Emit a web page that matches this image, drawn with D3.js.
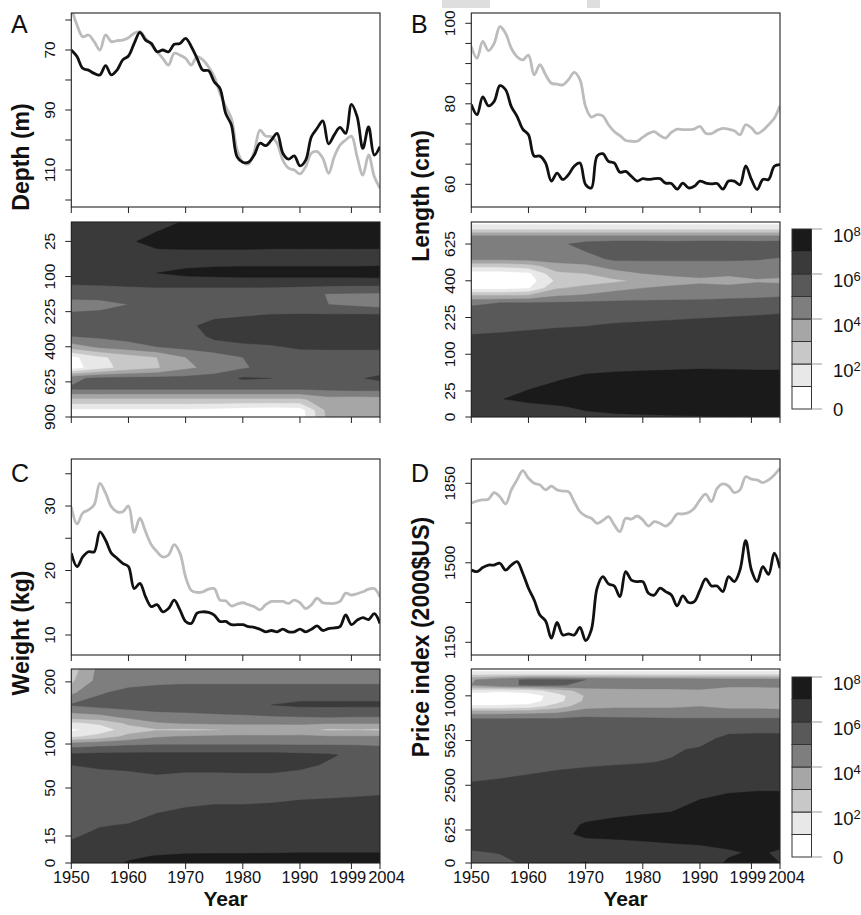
<!DOCTYPE html>
<html>
<head>
<meta charset="utf-8">
<script src="https://cdn.jsdelivr.net/npm/d3@7"></script>
<style>
body{margin:0;background:#fff}
svg{display:block}
text{font-family:"Liberation Sans",Arial,Helvetica,sans-serif;fill:#111}
</style>
</head>
<body>
<script>
var years=d3.range(1950,2005);

// top panels: black and gray series, one value per year
var depthBlack=[70.0,72.2,76.1,76.7,77.8,78.3,75.2,78.3,76.7,73.3, 72.0,67.8,64.1,66.7,67.8,70.6,70.0,70.6,68.1,67.8, 66.1,68.9,72.8,76.7,76.9,80.6,82.8,91.1,95.0,105.6, 107.4,107.4,105.0,101.1,101.9,100.0,97.8,104.4,106.4,105.3, 108.6,106.7,98.9,96.1,93.6,101.3,98.3,95.8,97.8,88.1, 92.2,102.8,95.6,105.0,102.2];
var depthGray=[56,61.7,65.6,65.0,67.2,70.0,65.0,67.2,66.9,66.7, 65.9,64.4,63.9,66.1,68.3,70.6,72.8,75.0,71.1,71.7, 72.8,75.0,72.2,73.3,75.6,78.9,84.4,88.9,92.8,103.3, 107.4,108.0,103.9,96.7,98.7,98.9,101.1,106.7,109.4,110.0, 111.3,108.9,104.4,103.9,106.1,111.1,105.6,101.7,100.0,98.7, 105.6,111.7,105.0,112.2,116.1];
var lengthBlack=[79.8,77.3,81.7,79.5,80.6,84.5,83.5,79.3,76.9,73.7, 72.3,67.0,67.0,65.3,60.8,62.8,61.2,62.4,64.5,65.3, 59.9,59.1,67.0,67.6,65.7,65.3,63.0,63.2,62.0,60.8, 61.4,61.2,61.4,61.4,60.3,60.2,58.8,60.3,59.1,59.5, 60.8,60.3,60.1,60.2,58.8,60.8,60.8,59.9,64.6,61.2, 58.7,61.2,61.2,64.5,64.9];
var lengthGray=[94.2,91.3,95.5,93.2,95.0,99.2,97.5,93.8,91.7,90.9, 92.1,87.2,89.7,87.2,85.1,84.9,84.7,86.0,87.8,86.0, 79.3,76.7,77.3,77.0,74.8,73.1,72.1,70.9,70.7,70.7, 71.7,72.6,73.1,72.1,71.5,72.9,73.7,73.6,73.6,73.7, 74.4,72.7,72.6,73.4,73.9,73.7,73.3,72.3,74.8,74.0, 72.6,73.4,74.8,76.4,79.5];
var weightBlack=[22.7,20.6,22.1,22.9,22.9,26.0,24.7,22.7,21.9,21.1, 20.6,17.2,18.0,15.9,14.4,14.7,13.6,14.1,15.4,13.9, 12.1,11.8,13.4,13.6,13.5,13.1,12.1,12.1,11.6,11.6, 11.6,11.3,11.2,10.9,10.5,10.7,10.5,10.9,10.5,10.5, 10.9,10.5,10.9,11.4,10.7,11.0,11.1,11.3,13.1,11.6, 12.3,12.7,12.4,13.3,11.8];
var weightGray=[29.9,27.2,28.9,29.4,30.2,33.5,32.0,29.9,29.1,29.1, 30.0,25.9,28.1,26.0,24.0,22.9,22.1,22.4,24.0,22.7, 19.0,16.9,16.6,16.7,17.1,17.2,15.4,15.3,14.5,14.8, 15.0,14.7,14.4,13.9,14.7,15.2,15.2,15.2,14.9,15.4, 15.0,14.1,14.7,15.7,15.0,14.9,14.9,15.2,16.5,16.2, 16.4,16.7,17.1,17.2,15.9];
var priceBlack=[1468,1461,1479,1490,1490,1498,1468,1490,1505,1454, 1388,1336,1270,1244,1168,1237,1182,1187,1182,1216, 1157,1205,1388,1439,1407,1398,1351,1461,1424,1417, 1417,1366,1358,1388,1373,1358,1310,1354,1325,1329, 1380,1429,1398,1398,1373,1439,1417,1468,1598,1468, 1417,1483,1449,1542,1476];
var priceGray=[1762,1772,1777,1780,1809,1791,1759,1821,1865,1906, 1872,1850,1843,1821,1838,1821,1816,1813,1769,1725, 1706,1696,1674,1686,1703,1667,1637,1696,1692,1706, 1689,1662,1681,1674,1662,1681,1715,1715,1721,1740, 1777,1802,1769,1828,1847,1838,1809,1821,1879,1868, 1865,1853,1865,1887,1916];

// contour panels: log10 abundance per year column (gridYears) and size bin (rows, top to bottom)
var gridYears=[1950,1955,1960,1965,1970,1975,1980,1985,1990,1995,2000,2004];
var depthBins=[5,12,25,42,64,90,121,156,196,240,289,342,400,462,529,600,676,756,841,900];
var depthGrid=[
[6.5,6.5,6.5,6.6,7.1,7.5,7.5,7.5,7.5,7.5,7.5,7.5],
[6.5,6.5,6.5,6.95,7.5,7.5,7.5,7.5,7.5,7.5,7.5,7.5],
[6.5,6.5,6.8,7.5,7.5,7.5,7.5,7.5,7.5,7.5,7.5,7.5],
[6.5,6.5,6.5,6.8,6.85,6.85,6.85,6.8,6.8,6.8,6.8,6.8],
[6.5,6.5,6.5,6.5,6.6,6.7,6.7,6.7,6.7,6.7,6.7,6.7],
[6.5,6.5,6.5,7.0,7.3,7.4,7.5,7.5,7.5,7.5,7.5,7.6],
[6.05,6.1,6.2,6.3,6.3,6.3,6.3,6.3,6.3,6.3,6.3,6.3],
[5.5,5.5,5.5,5.5,5.5,5.5,5.5,5.45,5.3,4.95,4.9,4.85],
[4.5,4.6,5.0,5.4,5.3,5.3,5.3,5.2,5.2,5.0,4.8,4.6],
[5.2,5.3,5.5,5.5,5.6,5.8,5.9,6.05,6.1,6.1,6.1,6.1],
[5.5,5.5,5.5,5.8,5.8,6.3,6.5,6.5,6.5,6.5,6.5,6.5],
[5.0,5.2,5.4,5.5,5.5,6.2,6.4,6.5,6.5,6.5,6.5,6.5],
[3.5,4.2,4.6,5.0,5.3,5.6,5.8,5.9,6.15,6.2,6.2,6.2],
[0.7,1.8,2.5,3.0,4.0,4.5,5.0,5.3,5.5,5.5,5.5,5.5],
[0.5,1.6,2.4,2.9,3.8,4.3,4.9,5.3,5.5,5.5,5.5,5.5],
[4.8,5.2,5.3,5.3,5.3,5.5,6.1,6.0,5.7,5.6,5.9,6.2],
[5.1,5.1,5.1,5.1,5.1,5.1,5.1,5.1,5.1,5.2,5.3,5.3],
[2.8,2.8,2.8,2.8,2.8,2.8,2.8,2.8,2.8,3.6,3.5,3.6],
[0.8,0.8,0.8,0.8,0.8,0.7,0.5,0.4,0.5,3.4,3.4,3.5],
[0.5,0.5,0.5,0.5,0.5,0.5,0.4,0.3,0.4,3.3,3.4,3.5]];
var lengthBins=[784,729,676,625,576,529,484,441,400,361,324,289,240,196,156,121,90,64,42,25,12,4,0];
var lengthGrid=[
[0.5,0.5,0.5,0.5,0.5,0.5,0.5,0.5,0.5,0.5,0.5,0.5],
[1.9,1.9,1.9,1.9,1.9,1.9,1.9,1.9,1.9,1.9,1.9,1.9],
[4.3,4.3,4.3,4.3,4.3,4.3,4.3,4.3,4.3,4.3,4.3,4.3],
[4.5,4.5,4.6,4.8,5.3,5.5,5.5,5.4,5.5,5.5,5.4,5.5],
[4.5,4.5,4.5,4.6,5.0,5.5,5.5,5.5,5.5,5.5,5.5,5.5],
[4.3,4.3,4.4,4.5,4.6,5.2,5.2,5.2,5.2,5.2,5.1,4.9],
[2.2,2.2,2.5,3.6,3.8,4.4,4.5,4.5,4.5,4.5,4.5,4.5],
[0.5,0.5,0.8,2.8,3.0,3.6,4.0,4.2,4.3,4.2,4.3,4.3],
[0.3,0.3,0.5,2.2,2.5,2.8,3.2,3.6,3.8,3.6,3.9,3.8],
[0.6,0.6,0.9,2.9,3.3,3.7,4.0,4.2,4.3,4.3,4.3,4.4],
[3.0,3.0,3.1,3.9,4.1,4.4,4.5,4.5,4.6,4.7,4.8,4.9],
[4.8,5.0,5.05,5.1,5.15,5.2,5.25,5.3,5.3,5.4,5.4,5.4],
[5.5,5.5,5.55,5.6,5.65,5.7,5.75,5.8,5.85,5.9,5.95,6.0],
[5.7,5.75,5.8,5.9,5.95,6.05,6.1,6.15,6.2,6.25,6.3,6.3],
[6.05,6.1,6.2,6.25,6.3,6.3,6.35,6.35,6.4,6.4,6.4,6.4],
[6.3,6.3,6.35,6.4,6.4,6.45,6.45,6.5,6.5,6.5,6.5,6.5],
[6.5,6.5,6.5,6.5,6.5,6.5,6.55,6.55,6.6,6.6,6.6,6.6],
[6.5,6.5,6.5,6.6,6.75,6.85,6.9,6.95,7.0,6.98,6.95,6.95],
[6.5,6.5,6.6,6.95,7.3,7.4,7.5,7.5,7.5,7.5,7.5,7.5],
[6.5,6.6,7.05,7.4,7.5,7.5,7.5,7.5,7.5,7.5,7.5,7.5],
[6.5,6.95,7.3,7.5,7.5,7.5,7.5,7.5,7.5,7.5,7.5,7.5],
[6.5,6.6,6.7,6.9,7.2,7.4,7.5,7.5,7.5,7.5,7.5,7.5],
[6.5,6.5,6.5,6.6,6.7,6.8,6.85,6.9,6.95,7.1,7.3,7.4]];
var weightBins=[225,202,180,159,139,130,120,110,100,86,74,61,49,38,29,21,15,8,3,1,0];
var weightGrid=[
[2.5,4.3,4.5,4.5,4.5,4.5,4.5,4.5,4.5,4.5,4.5,4.5],
[2.8,4.4,4.6,4.7,4.8,4.8,4.8,4.8,4.8,4.8,4.8,4.8],
[3.8,4.9,5.3,5.5,5.5,5.5,5.5,5.5,5.5,5.5,5.5,5.5],
[5.1,5.4,5.5,5.5,5.5,5.5,5.6,6.0,6.2,6.2,6.2,6.2],
[3.4,3.6,4.2,4.6,4.7,4.8,4.85,4.9,4.95,5.0,4.95,4.95],
[1.8,2.2,3.2,3.9,4.1,4.2,4.2,4.2,4.2,4.1,4.1,4.1],
[0.8,1.4,2.5,2.9,2.8,2.9,3.2,3.1,3.3,2.8,2.9,2.8],
[1.8,2.4,3.3,3.9,4.1,4.2,4.2,4.2,4.2,4.1,4.1,4.1],
[4.4,4.6,4.8,4.9,4.9,4.9,4.9,4.9,4.9,4.9,4.9,4.9],
[6.2,6.3,6.3,6.3,6.3,6.3,6.3,6.3,6.2,6.1,5.8,5.4],
[6.0,6.2,6.3,6.4,6.3,6.3,6.4,6.4,6.2,5.9,5.6,5.4],
[5.5,5.6,5.7,5.9,5.8,5.8,5.8,5.8,5.7,5.5,5.4,5.4],
[5.3,5.35,5.4,5.45,5.5,5.55,5.55,5.6,5.65,5.7,5.75,5.8],
[5.4,5.45,5.5,5.6,5.8,5.9,5.9,5.95,6.05,6.1,6.15,6.2],
[5.5,5.6,5.7,6.0,6.2,6.3,6.3,6.35,6.4,6.4,6.4,6.4],
[5.6,5.95,6.05,6.3,6.4,6.4,6.45,6.45,6.5,6.5,6.5,6.5],
[5.9,6.2,6.3,6.4,6.5,6.5,6.5,6.5,6.5,6.5,6.5,6.5],
[6.1,6.3,6.4,6.5,6.5,6.5,6.5,6.5,6.5,6.5,6.5,6.5],
[6.3,6.4,6.5,6.6,6.75,6.8,6.8,6.8,6.85,6.85,6.85,6.85],
[6.4,6.5,6.8,7.05,7.2,7.2,7.2,7.25,7.25,7.25,7.25,7.25],
[6.5,6.6,7.1,7.3,7.4,7.4,7.4,7.4,7.4,7.4,7.4,7.4]];
var priceBins=[13225,12544,11881,11236,10609,10000,9409,8836,8281,7569,6724,5776,4900,3969,3136,2401,1764,1225,784,484,225,64,0];
var priceGrid=[
[0.4,0.4,0.4,0.4,0.4,0.4,0.4,0.4,0.4,0.4,0.4,0.4],
[1.8,1.8,1.8,1.8,1.8,1.8,1.8,1.8,1.8,1.8,1.8,1.8],
[3.9,4.6,5.2,5.2,5.0,4.8,4.6,4.6,4.5,4.4,4.4,4.3],
[4.0,4.8,5.1,5.1,4.8,4.6,4.5,4.5,4.4,4.3,4.3,4.3],
[1.5,1.2,1.5,2.5,3.4,3.7,3.8,3.8,3.9,3.5,3.5,3.6],
[0.3,0.3,0.4,1.5,3.1,3.2,3.15,3.2,3.5,3.1,3.15,3.1],
[0.3,0.3,0.5,1.6,3.2,3.2,3.2,3.3,3.6,3.2,3.15,3.1],
[1.2,1.2,1.4,2.5,3.6,3.9,3.9,3.9,4.0,3.8,3.8,3.7],
[3.5,3.5,3.6,3.8,4.5,4.3,4.3,4.3,4.3,4.3,4.3,4.3],
[5.1,5.1,5.1,5.1,5.2,5.2,5.15,5.1,5.1,5.1,5.1,5.1],
[5.4,5.4,5.4,5.4,5.4,5.4,5.4,5.4,5.45,5.6,5.7,5.7],
[5.4,5.4,5.45,5.45,5.5,5.5,5.5,5.55,5.65,6.3,6.3,6.3],
[5.5,5.55,5.6,5.65,5.7,5.75,5.8,5.9,6.1,6.4,6.4,6.4],
[5.6,5.7,5.75,5.8,5.85,5.9,5.95,6.05,6.3,6.5,6.5,6.5],
[5.85,5.9,6.0,6.1,6.2,6.3,6.4,6.5,6.5,6.5,6.5,6.5],
[6.1,6.2,6.3,6.4,6.5,6.5,6.5,6.5,6.5,6.8,6.85,6.85],
[6.3,6.4,6.5,6.5,6.5,6.55,6.6,6.7,7.0,7.2,7.3,7.3],
[6.4,6.45,6.5,6.5,6.6,6.75,6.9,7.0,7.3,7.4,7.4,7.4],
[6.5,6.5,6.5,6.6,7.1,7.3,7.4,7.5,7.5,7.5,7.5,7.5],
[6.5,6.5,6.5,6.6,7.3,7.4,7.5,7.5,7.5,7.5,7.5,7.5],
[6.3,6.3,6.4,6.5,6.6,6.7,6.85,7.0,7.1,7.2,7.3,7.2],
[5.9,6.05,6.4,6.5,6.6,6.5,6.5,6.5,6.6,6.9,7.1,6.9],
[5.5,5.7,6.2,6.8,7.05,6.5,6.5,6.5,6.6,7.1,7.3,7.0]];

var bandLevels=[1,2,3,4,5,6,7];
var bandColors=["#ffffff","#e8e8e8","#c8c8c8","#a6a6a6","#7e7e7e","#595959","#3a3a3a","#1a1a1a"];
var legendTicks=[0,2,4,6,8];
var yearTicks=[1950,1960,1970,1980,1990,1999,2004];

var svg=d3.select("body").append("svg").attr("width",861).attr("height",915);
var defs=svg.append("defs");
var clipCount=0;

svg.append("rect").attr("x",442).attr("y",0).attr("width",48).attr("height",8).attr("fill","#dedede"); //scan marks at the top
svg.append("rect").attr("x",587).attr("y",0).attr("width",13).attr("height",8).attr("fill","#dedede");

function xScaleFor(left) {
	return d3.scaleLinear().domain([1950,2004]).range([left,left+308.7]);
}

function clipFor(x0,y0,x1,y1) {
	var id="clip"+(clipCount++);
	defs.append("clipPath").attr("id",id).append("rect").attr("x",x0).attr("y",y0).attr("width",x1-x0).attr("height",y1-y0);
	return "url(#"+id+")";
}

function yAxis(x0,y,tickVals,labelVals) {
	tickVals.forEach(function(v) {
		svg.append("line").attr("x1",x0-6).attr("x2",x0).attr("y1",y(v)).attr("y2",y(v)).attr("stroke","#222").attr("stroke-width",1);
	});
	labelVals.forEach(function(v) {
		svg.append("text").attr("transform","translate("+(x0-16)+","+y(v)+") rotate(-90)").attr("text-anchor","middle")
			.attr("font-size",15.5).text(v);
	});
}

function xAxis(x,yb,withLabels) {
	yearTicks.forEach(function(t) {
		svg.append("line").attr("x1",x(t)).attr("x2",x(t)).attr("y1",yb).attr("y2",yb+6).attr("stroke","#222").attr("stroke-width",1);
		if (withLabels) svg.append("text").attr("x",x(t)).attr("dx",t===1999?-3.5:(t===2004?6.5:0)).attr("y",yb+20)
			.attr("text-anchor","middle").attr("font-size",16.5).text(t); //1999 and 2004 pushed apart as in the original
	});
}

function frame(x0,y0,x1,y1) {
	svg.append("rect").attr("x",x0).attr("y",y0).attr("width",x1-x0).attr("height",y1-y0).attr("fill","none").attr("stroke","#222").attr("stroke-width",1.1);
}

function linePanel(left,top,bottom,yDomain,tickVals,labelVals,black,gray) {
	var x=xScaleFor(left);
	var y=d3.scaleLinear().domain(yDomain).range([top,bottom]);
	var line=d3.line().x(function(d,i){return x(years[i]);}).y(function(d){return y(d);}).curve(d3.curveCatmullRom.alpha(0.5));
	var g=svg.append("g").attr("clip-path",clipFor(x.range()[0],top,x.range()[1],bottom));
	g.append("path").attr("d",line(gray)).attr("fill","none").attr("stroke","#bcbcbc").attr("stroke-width",2.8).attr("stroke-linejoin","round");
	g.append("path").attr("d",line(black)).attr("fill","none").attr("stroke","#111").attr("stroke-width",2.8).attr("stroke-linejoin","round");
	frame(x.range()[0],top,x.range()[1],bottom);
	yAxis(x.range()[0],y,tickVals,labelVals);
	xAxis(x,bottom,false);
}

function contourPanel(left,top,bottom,y,bins,grid,tickVals,withLabels) {
	var x=xScaleFor(left);
	var n=gridYears.length, m=bins.length;
	var colPx=d3.scaleLinear().domain(d3.range(n)).range(gridYears.map(x));
	var rowPx=d3.scaleLinear().domain(d3.range(m)).range(bins.map(y));
	var proj=d3.geoTransform({point:function(px,py) {
		var c=Math.max(0,Math.min(n-1,px-0.5));
		var r=Math.max(0,Math.min(m-1,py-0.5));
		this.stream.point(colPx(c),rowPx(r));
	}});
	var path=d3.geoPath(proj);
	var bands=d3.contours().size([n,m]).thresholds(bandLevels)(d3.merge(grid));
	var g=svg.append("g").attr("clip-path",clipFor(x.range()[0],top,x.range()[1],bottom));
	g.append("rect").attr("x",x.range()[0]).attr("y",top).attr("width",x.range()[1]-x.range()[0]).attr("height",bottom-top).attr("fill",bandColors[0]);
	bands.forEach(function(b,i) {
		g.append("path").attr("d",path(b)).attr("fill",bandColors[i+1]).attr("stroke",bandColors[i+1]).attr("stroke-width",0.4);
	});
	frame(x.range()[0],top,x.range()[1],bottom);
	yAxis(x.range()[0],y,tickVals,tickVals);
	xAxis(x,bottom,withLabels);
}

function legend(top) {
	var ly=d3.scaleLinear().domain([0,8]).range([top+180,top]);
	d3.range(8).forEach(function(k) {
		svg.append("rect").attr("x",792).attr("y",ly(k+1)).attr("width",19.5).attr("height",ly(k)-ly(k+1))
			.attr("fill",bandColors[k]).attr("stroke","#333").attr("stroke-width",1);
	});
	legendTicks.forEach(function(k) {
		svg.append("line").attr("x1",811.5).attr("x2",822).attr("y1",ly(k)).attr("y2",ly(k)).attr("stroke","#999").attr("stroke-width",1);
		var t=svg.append("text").attr("x",833).attr("font-size",18.5);
		if (k===0) t.attr("y",ly(k)+6.5).text("0");
		else {
			t.attr("y",ly(k)+13).text("10");
			t.append("tspan").attr("font-size",13).attr("dy",-6).text(k);
		}
	});
}

function panelLetter(x,y,s) {
	svg.append("text").attr("x",x).attr("y",y).attr("font-size",25).text(s);
}
function axisTitle(x,y,s) {
	svg.append("text").attr("transform","translate("+x+","+y+") rotate(-90)").attr("text-anchor","middle")
		.attr("font-size",23).attr("font-weight","bold").text(s);
}

// A: depth
linePanel(71.3,13,207,[57.67,122.33],[60,70,80,90,100,110,120],[70,90,110],depthBlack,depthGray);
contourPanel(71.3,222,417,d3.scaleSqrt().domain([5,900]).range([222,417]),depthBins,depthGrid,[25,100,225,400,625,900],false);
// B: length
linePanel(471.3,13,207,[102.56,54.36],[60,65,70,75,80,85,90,95,100],[60,80,100],lengthBlack,lengthGray);
contourPanel(471.3,222,417,d3.scaleSqrt().domain([0,25,784]).range([417,391,222]),lengthBins,lengthGrid,[0,25,100,225,400,625],false);
legend(229);
// C: weight
linePanel(71.3,459,655,[37.29,6.9],[10,15,20,25,30,35],[10,20,30],weightBlack,weightGray);
contourPanel(71.3,669,863,d3.scaleSqrt().domain([0,15,225]).range([863,836,669]),weightBins,weightGrid,[0,15,50,100,200],true);
// D: price
linePanel(471.3,459,655,[1957,1094],[1150,1325,1500,1675,1850],[1150,1500,1850],priceBlack,priceGray);
contourPanel(471.3,669,863,d3.scaleSqrt().domain([0,625,13225]).range([863,830,669]),priceBins,priceGrid,[0,625,2500,5625,10000],true);
legend(677);

panelLetter(11,33,"A");
panelLetter(411,33,"B");
panelLetter(11,482,"C");
panelLetter(411,482,"D");

axisTitle(29,157,"Depth (m)");
axisTitle(429,196,"Length (cm)");
axisTitle(29,633,"Weight (kg)");
axisTitle(429,637,"Price index (2000$US)");

svg.append("text").attr("x",225.6).attr("y",906).attr("text-anchor","middle").attr("font-size",21).attr("font-weight","bold").text("Year");
svg.append("text").attr("x",625.6).attr("y",906).attr("text-anchor","middle").attr("font-size",21).attr("font-weight","bold").text("Year");
</script>
</body>
</html>
